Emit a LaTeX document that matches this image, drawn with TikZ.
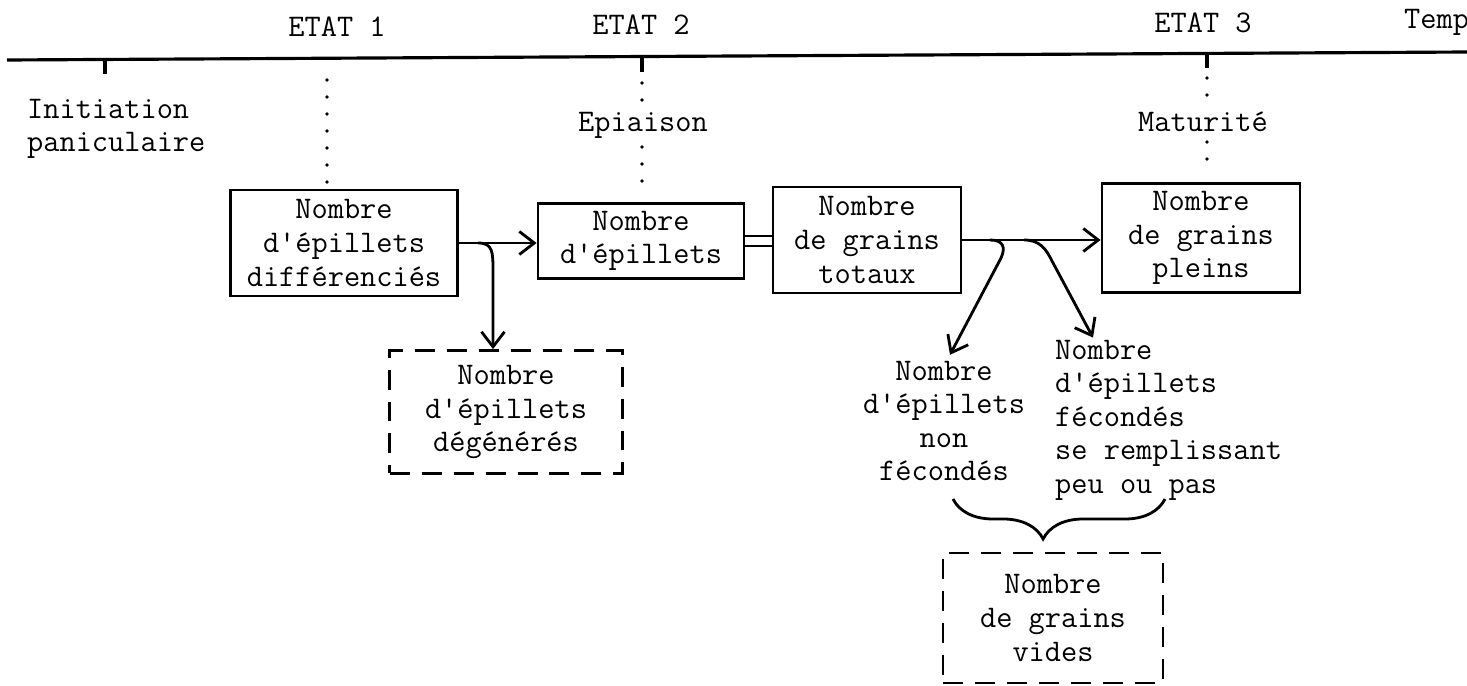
\documentclass[tikz,border=0pt]{standalone}
\usepackage{fontspec}
\usetikzlibrary{arrows.meta,decorations.pathreplacing}

\begin{document}
\begin{tikzpicture}[x=0.02cm, y=-0.02cm,
		font=\fontsize{17.9}{19.1}\ttfamily,
		compte/.style={rectangle, draw=black, line width=1.6pt, align=center, inner sep=2pt},
		perte/.style={compte, dash pattern=on 0.4cm off 0.24cm},
		arrow/.style={line width=1.6pt, -{Straight Barb[length=0.3cm, width=0.46cm]}},
		jalon/.style={line width=2.2pt, line cap=round, dash pattern=on 0pt off 0.34cm}
	]
	\useasboundingbox (0,0) rectangle (1467,686);

	% axe du temps
	\draw[line width=1.8pt] (7,60) -- (1467,52);
	\node (etatA) at (337,27) {ETAT 1};
	\node (etatB) at (641,25) {ETAT 2};
	\node (etatC) at (1203,23) {ETAT 3};
	\node (temps) [anchor=west] at (1398,22) {Temps};

	\node (initiation) [anchor=west, align=left] at (21,129) {Initiation\\paniculaire};
	\node (epiaison) at (643,125) {Epiaison};
	\node (maturite) at (1203,122) {Maturité};

	% reperes
	\draw[line width=1.8pt] (105,60) -- (105,74);
	\draw[jalon] (327,80) -- (327,186);
	\draw[line width=1.8pt] (642,57) -- (642,72);
	\draw[jalon] (642,83) -- (642,100);
	\draw[jalon] (642,147) -- (642,192);
	\draw[line width=1.8pt] (1207,53) -- (1207,68);
	\draw[jalon] (1207,78) -- (1207,98);
	\draw[jalon] (1207,142) -- (1207,172);

	% composantes
	\node (diff) [compte, minimum width=4.54cm, minimum height=2.12cm] at (344,243) {Nombre\\d'épillets\\différenciés};
	\node (epil) [compte, minimum width=4.12cm, minimum height=1.5cm] at (641,241) {Nombre\\d'épillets};
	\node (totaux) [compte, minimum width=3.76cm, minimum height=2.12cm] at (867,240) {Nombre\\de grains\\totaux};
	\node (pleins) [compte, minimum width=3.96cm, minimum height=2.18cm] at (1201,238) {Nombre\\de grains\\pleins};
	\node (degen) [perte, minimum width=4.66cm, minimum height=2.46cm] at (506,412) {Nombre\\d'épillets\\dégénérés};
	\node (nonfec) [align=center] at (944,421) {Nombre\\d'épillets\\non\\fécondés};
	\node (fecpeu) [anchor=west, align=left] at (1049,420) {Nombre\\d'épillets\\fécondés\\se remplissant\\peu ou pas};
	\node (vides) [perte, minimum width=4.4cm, minimum height=2.6cm] at (1053,618) {Nombre\\de grains\\vides};

	\coordinate (fourcheA) at (478,243);
	\coordinate (fourcheB) at (990,240);
	\coordinate (fourcheC) at (1024,240);

	\draw[arrow] (diff.east) -- (diff.east -| epil.west);
	\draw[arrow] (fourcheA) .. controls (493,243) and (493,252) .. (493,272) -- ([xshift=-0.26cm]degen.north);
	\draw[line width=1.2pt, double, double distance=0.15cm] (epil.east) -- (epil.east -| totaux.west);
	\draw[arrow] (totaux.east) -- (totaux.east -| pleins.west);
	\draw[arrow] (fourcheB) .. controls (1003,240) and (1006,247) .. (1001,258) -- ([xshift=0.12cm]nonfec.north);
	\draw[arrow] (fourcheC) .. controls (1040,240) and (1046,249) .. (1052,261) -- ([xshift=0.88cm, yshift=-0.08cm]fecpeu.north west);

	\draw[line width=1.6pt, decorate, decoration={brace, amplitude=0.8cm, aspect=0.575}] (1165,499) -- (953,499);

\end{tikzpicture}
\end{document}
